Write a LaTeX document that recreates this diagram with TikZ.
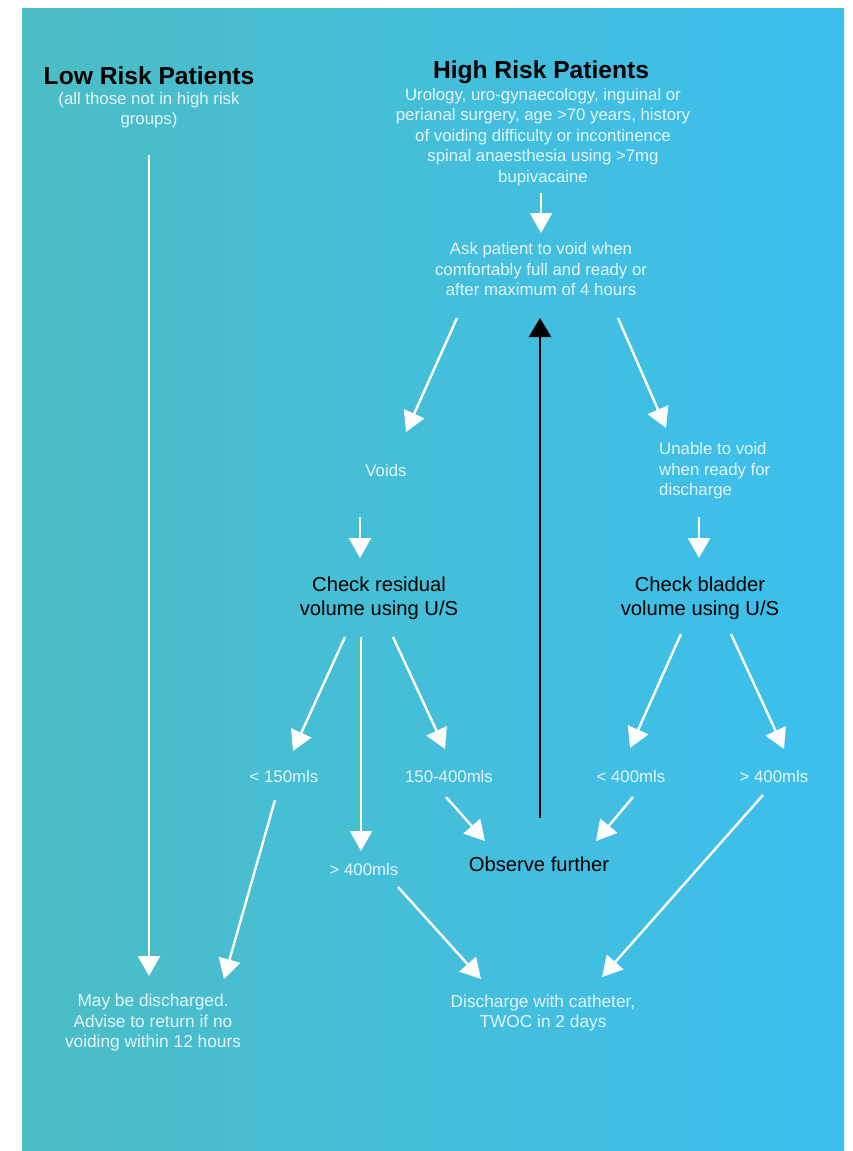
\documentclass[tikz,border=0pt]{standalone}
\usepackage{fontspec}
\setmainfont{Liberation Sans}
\usetikzlibrary{arrows.meta}
\definecolor{bgL}{RGB}{76,189,197}
\definecolor{bgR}{RGB}{60,191,238}
\definecolor{wtxt}{RGB}{228,246,250}
\begin{document}
\begin{tikzpicture}[x=1pt,y=-1pt,
 title/.style={font=\fontsize{24.6}{28}\selectfont\bfseries, text=black, inner sep=0},
 wnote/.style={font=\fontsize{16.8}{20.5}\selectfont, text=wtxt, align=center, inner sep=0},
 wbig/.style={wnote, font=\fontsize{17.3}{20.5}\selectfont},
 bnote/.style={font=\fontsize{20.2}{24}\selectfont, text=black, align=center, inner sep=0},
 warr/.style={draw=white, line width=2.4pt, -{Triangle[width=22pt,length=20pt]}},
 barr/.style={draw=black, line width=2.2pt, -{Triangle[width=22pt,length=19pt]}}]
\useasboundingbox (0,0) rectangle (852,1151);
\shade[left color=bgL, right color=bgR] (22,8) rectangle (844,1151);

% nodes
\node[title] (low) at (149,76) {Low Risk Patients};
\node[wnote] (lowsub) at (149,110) {(all those not in high risk\\groups)};
\node[title] (high) at (541,72) {High Risk Patients};
\node[wnote] (highsub) at (543,137) {Urology, uro-gynaecology, inguinal or\\perianal surgery, age >70 years, history\\of voiding difficulty or incontinence\\spinal anaesthesia using >7mg\\bupivacaine};
\node[wnote] (ask) at (541,269) {Ask patient to void when\\comfortably full and ready or\\after maximum of 4 hours};
\node[wnote] (voids) at (386,470) {Voids};
\node[wnote, align=left, anchor=west] (unable) at (659,471) {Unable to void\\when ready for\\discharge};
\node[bnote] (chkres) at (379,598) {Check residual\\volume using U/S};
\node[bnote] (chkbl) at (700,598) {Check bladder\\volume using U/S};
\node[wnote] (lt150) at (284,776) {< 150mls};
\node[wnote] (mid) at (449,776) {150-400mls};
\node[wnote] (gtA) at (364,869) {> 400mls};
\node[wnote] (lt400) at (631,776) {< 400mls};
\node[wnote] (gtB) at (774,776) {> 400mls};
\node[bnote] (obs) at (539,864) {Observe further};
\node[wbig] (maydis) at (153,1023) {May be discharged.\\Advise to return if no\\voiding within 12 hours};
\node[wbig] (cath) at (543,1013) {Discharge with catheter,\\TWOC in 2 days};

% connector end points
\coordinate (lowS) at (149,155);   \coordinate (lowE) at (149,976);
\coordinate (hiS) at (541,193);    \coordinate (hiE) at (541,233);
\coordinate (askL) at (457,318);   \coordinate (voidsT) at (406,432);
\coordinate (askR) at (618,318);   \coordinate (unableT) at (666,428);
\coordinate (obsT) at (540,818);   \coordinate (askB) at (540,318);
\coordinate (voidsB) at (360,517); \coordinate (chkresT) at (360,558);
\coordinate (unableB) at (699,517);\coordinate (chkblT) at (699,558);
\coordinate (crL) at (345,637);    \coordinate (lt150T) at (293,751);
\coordinate (crM) at (361,637);    \coordinate (gtAT) at (361,851);
\coordinate (crR) at (393,637);    \coordinate (midT) at (445,749);
\coordinate (cbL) at (681,634);    \coordinate (lt400T) at (630,748);
\coordinate (cbR) at (731,634);    \coordinate (gtBT) at (784,749);
\coordinate (midB) at (446,797);   \coordinate (obsL) at (485,841);
\coordinate (lt400B) at (633,797); \coordinate (obsR) at (596,841);
\coordinate (gtAB) at (398,887);   \coordinate (cathL) at (481,979);
\coordinate (gtBB) at (763,795);   \coordinate (cathR) at (602,977);
\coordinate (lt150B) at (275,800); \coordinate (maydisT) at (224,979);

% connectors
\draw[warr] (lowS) -- (lowE);
\draw[warr] (hiS) -- (hiE);
\draw[warr] (askL) -- (voidsT);
\draw[warr] (askR) -- (unableT);
\draw[barr] (obsT) -- (askB);
\draw[warr] (voidsB) -- (chkresT);
\draw[warr] (unableB) -- (chkblT);
\draw[warr] (crL) -- (lt150T);
\draw[warr] (crM) -- (gtAT);
\draw[warr] (crR) -- (midT);
\draw[warr] (cbL) -- (lt400T);
\draw[warr] (cbR) -- (gtBT);
\draw[warr] (midB) -- (obsL);
\draw[warr] (lt400B) -- (obsR);
\draw[warr] (gtAB) -- (cathL);
\draw[warr] (gtBB) -- (cathR);
\draw[warr] (lt150B) -- (maydisT);
\end{tikzpicture}
\end{document}
